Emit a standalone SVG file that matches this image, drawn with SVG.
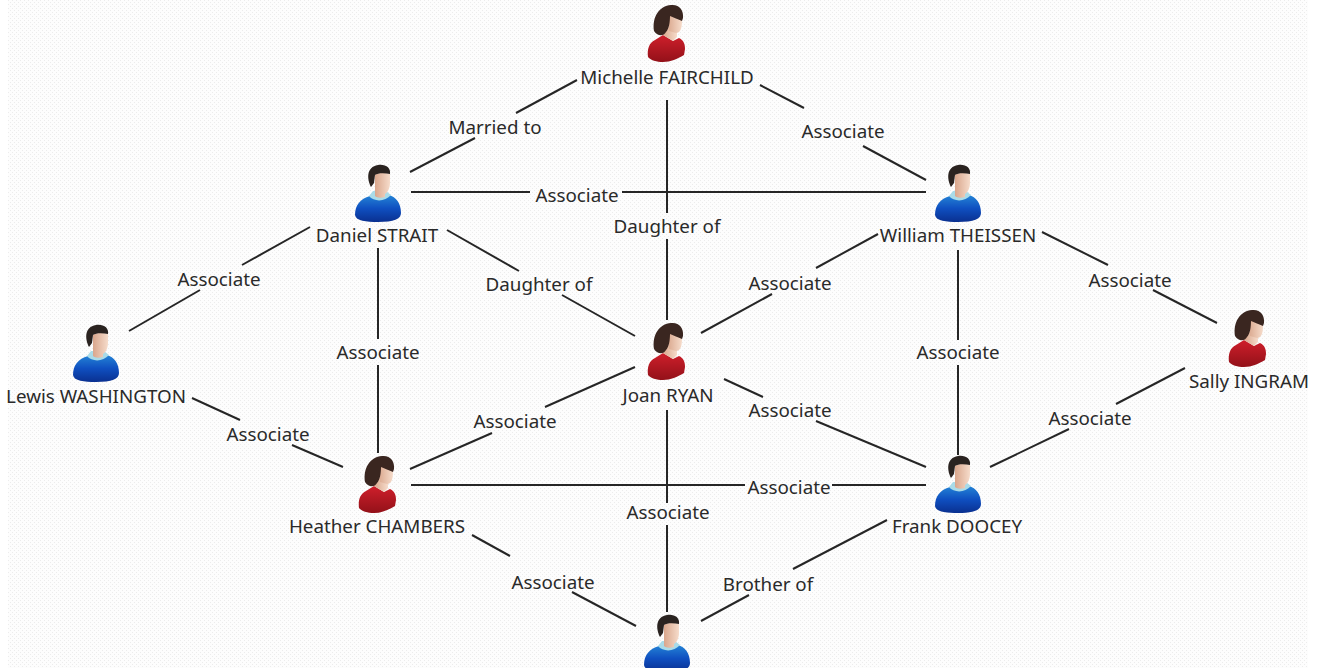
<svg xmlns="http://www.w3.org/2000/svg" width="1318" height="668" viewBox="0 0 1318 668">
<style>
text{font-family:"Noto Sans","Liberation Sans",sans-serif;font-size:18.8px;fill:#2a2a2a;text-anchor:middle}
#connectors path{fill:none;stroke:#262626;stroke-width:2}
</style>
<defs>
<pattern id="dots" width="4" height="4" patternUnits="userSpaceOnUse">
<rect width="4" height="4" fill="#fdfdfd"/>
<rect x="0" y="0" width="1" height="1" fill="#ececec"/>
<rect x="2" y="2" width="1" height="1" fill="#ececec"/>
</pattern>
<linearGradient id="blue" x1="0" y1="0" x2="0" y2="1"><stop offset="0" stop-color="#2484d6"/><stop offset=".5" stop-color="#0f4fc0"/><stop offset="1" stop-color="#0a3090"/></linearGradient>
<linearGradient id="red" x1="0" y1="0" x2="0" y2="1"><stop offset="0" stop-color="#cf1f2b"/><stop offset="1" stop-color="#931119"/></linearGradient>
<linearGradient id="skin" x1="0" y1="0" x2="1" y2="0"><stop offset="0" stop-color="#d9a68c"/><stop offset="1" stop-color="#f6dccb"/></linearGradient>
<symbol id="man" overflow="visible">
<path d="M-23 50C-23 40-18 34-8 31C-3 35 6 35 11 30C18 32 23 38 23 48C23 54 16 57 0 57C-12 57-22 56-23 50Z" fill="url(#blue)"/>
<path d="M-9 31C-4 37 7 37 13 30L8 26H-5Z" fill="#a9dbe8"/>
<path d="M-3 10C2 7 8 8 12 9L12 18C12 24 9 28 7 29L7 32C3 33-1 33-3 31L-3 25Z" fill="url(#skin)"/>
<path d="M-7 22C-11 14-12 2 0 0C8-1 13 3 12 9C6 8 0 8-3 10L-4 18Z" fill="#2a2320"/>
</symbol>
<symbol id="woman" overflow="visible">
<path d="M-19 52C-20 44-18 38-12 35L-4 30L6 36L12 33C16 35 18 38 18 44L17 50C10 54 4 57-4 57C-10 57-17 55-19 52Z" fill="url(#red)"/>
<path d="M0 22L10 24L10 32L6 36L-4 30Z" fill="url(#skin)"/>
<path d="M0 10C6 8 14 10 15 16C15 24 13 28 9 28L2 26Z" fill="url(#skin)"/>
<path d="M-13 26C-15 12-8 1 4 0C12-1 17 5 16 13L15 16C10 14 6 12 3 11C3 17 2 24-1 27C-3 31-9 32-13 26Z" fill="#3a2620"/>
</symbol>
</defs>
<rect id="page" width="1318" height="668" fill="#ffffff"/>
<rect id="background" x="8" width="1300" height="668" fill="url(#dots)"/>
<g id="connectors">
<path d="M577 80L516 113M475 138L410 172"/>
<path d="M760 85L804 108M863 146L926 180"/>
<path d="M667 100V213M667 239V320"/>
<path d="M411 192H530M622 192H926"/>
<path d="M310 227L242 265M200 290L129 331"/>
<path d="M447 230L519 271M562 295L635 336"/>
<path d="M378 248V339M378 365V453"/>
<path d="M878 234L816 268M772 294L701 333"/>
<path d="M1042 232L1108 265M1153 290L1217 323"/>
<path d="M958 250V340M958 365V455"/>
<path d="M1185 368L1116 404M1069 429L990 467"/>
<path d="M635 367L545 407M492 433L410 469"/>
<path d="M724 379L763 397M816 421L926 467"/>
<path d="M667 410V503M667 525V612"/>
<path d="M411 485H745M832 485H926"/>
<path d="M192 398L240 420M292 445L343 467"/>
<path d="M472 535L510 556M572 592L636 626"/>
<path d="M887 520L793 569M749 595L701 621"/>
</g>
<g id="edge-labels">
<text x="495" y="134">Married to</text>
<text x="843" y="138">Associate</text>
<text x="577" y="202">Associate</text>
<text x="667" y="233">Daughter of</text>
<text x="219" y="286">Associate</text>
<text x="539" y="291">Daughter of</text>
<text x="378" y="359">Associate</text>
<text x="790" y="290">Associate</text>
<text x="1130" y="287">Associate</text>
<text x="958" y="359">Associate</text>
<text x="1090" y="425">Associate</text>
<text x="515" y="428">Associate</text>
<text x="790" y="417">Associate</text>
<text x="268" y="441">Associate</text>
<text x="668" y="519">Associate</text>
<text x="789" y="494">Associate</text>
<text x="553" y="589">Associate</text>
<text x="768" y="591">Brother of</text>
</g>
<g id="michelle"><use href="#woman" x="667" y="5"/><text x="667" y="84">Michelle FAIRCHILD</text></g>
<g id="daniel"><use href="#man" x="378" y="165"/><text x="377" y="242">Daniel STRAIT</text></g>
<g id="william"><use href="#man" x="958" y="165"/><text x="958" y="242">William THEISSEN</text></g>
<g id="lewis"><use href="#man" x="96" y="325"/><text x="96" y="403">Lewis WASHINGTON</text></g>
<g id="joan"><use href="#woman" x="667" y="323"/><text x="668" y="402">Joan RYAN</text></g>
<g id="sally"><use href="#woman" x="1248" y="310"/><text x="1249" y="388">Sally INGRAM</text></g>
<g id="heather"><use href="#woman" x="378" y="456"/><text x="377" y="533">Heather CHAMBERS</text></g>
<g id="frank"><use href="#man" x="958" y="456"/><text x="957" y="533">Frank DOOCEY</text></g>
<g id="bottom-person"><use href="#man" x="667" y="615"/></g>
</svg>
